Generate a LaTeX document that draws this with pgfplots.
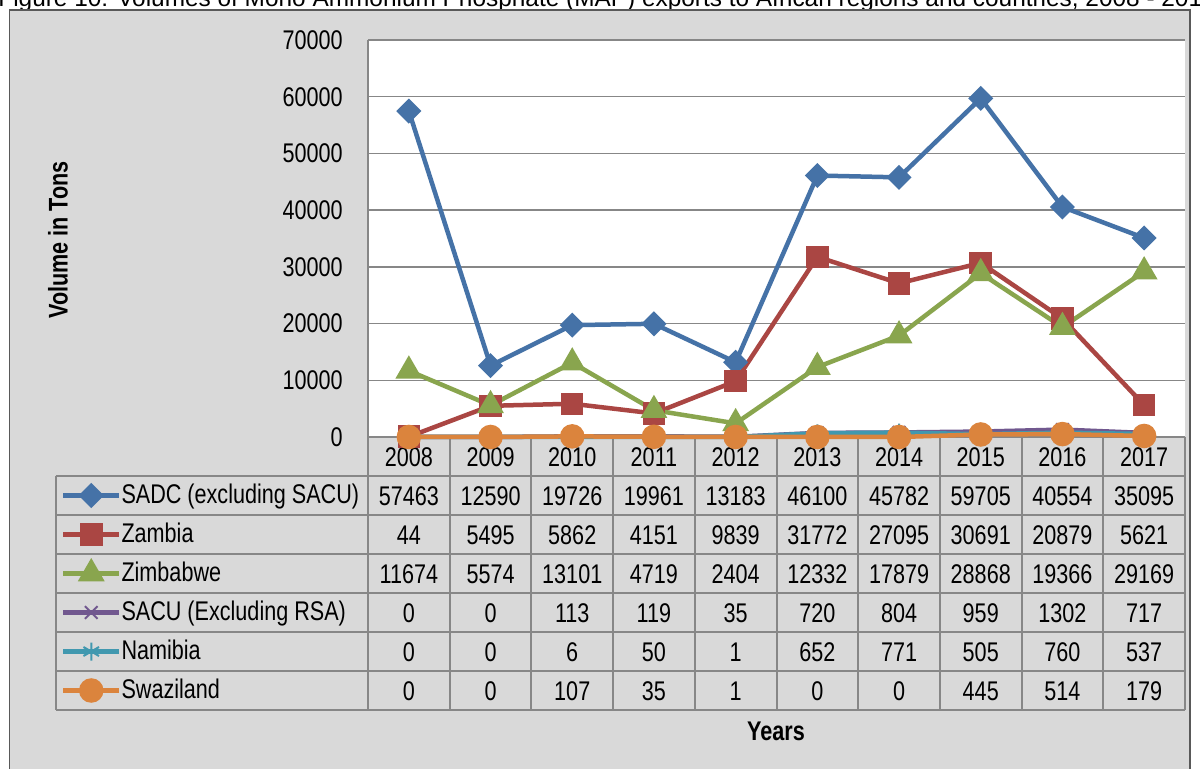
\documentclass[border=0pt]{standalone}
\usepackage{pgfplots}
\pgfplotsset{compat=1.18}
\usepackage{pgfplotstable}
\usepackage{fontspec}
\setmainfont{Liberation Sans}[FakeStretch=0.8]
\newfontfamily\titlefont{Liberation Sans}

\definecolor{cSADC}{HTML}{4572A7}
\definecolor{cZam}{HTML}{AA4643}
\definecolor{cZim}{HTML}{89A54E}
\definecolor{cSACU}{HTML}{71588F}
\definecolor{cNam}{HTML}{4198AF}
\definecolor{cSwa}{HTML}{DB843D}
\definecolor{panel}{HTML}{D9D9D9}
\definecolor{gridc}{HTML}{878787}

\pgfplotstableread{
year sadc zambia zimb sacu nam swa
0 57463 44 11674 0 0 0
1 12590 5495 5574 0 0 0
2 19726 5862 13101 113 6 107
3 19961 4151 4719 119 50 35
4 13183 9839 2404 35 1 1
5 46100 31772 12332 720 652 0
6 45782 27095 17879 804 771 0
7 59705 30691 28868 959 505 445
8 40554 20879 19366 1302 760 514
9 35095 5621 29169 717 537 179
}\datatable

\begin{document}
\begin{tikzpicture}[font=\fontsize{13.5}{16}\selectfont]
\useasboundingbox (0pt,0pt) rectangle (600pt,-384.5pt);
% title (cut off at the top of the page, as in the reference)
\node[anchor=base west, inner sep=0pt, font=\titlefont\fontsize{12.2}{14}\selectfont] at (-1pt,-3.5pt)
  {Figure 10: Volumes of Mono Ammonium Phosphate (MAP) exports to African regions and countries, 2008 - 2017};
% panel
\fill[panel] (4.75pt,-5pt) rectangle (595pt,-400pt);
\draw[gray!70!black, line width=0.6pt] (4.75pt,-400pt) -- (4.75pt,-5pt) -- (595pt,-5pt) -- (595pt,-400pt);
% table grid
\begin{scope}[draw=gridc, line width=1pt]
\foreach \k in {0,...,10} {
  \pgfmathsetmacro\xx{184+\k*40.85}
  \draw (\xx pt,-218.5pt) -- (\xx pt,-355pt);
}
\draw (184pt,-218.5pt) -- (592.5pt,-218.5pt);
\foreach \r in {0,...,6} {
  \pgfmathsetmacro\yy{-238-\r*19.5}
  \draw (27.75pt,\yy pt) -- (592.5pt,\yy pt);
}
\draw (27.75pt,-238pt) -- (27.75pt,-355pt);
\end{scope}
% table header (years)
\foreach \k in {0,...,9} {
  \pgfmathsetmacro\xx{184+(\k+0.5)*40.85}
  \pgfmathtruncatemacro\yr{2008+\k}
  \node[anchor=base, inner sep=0pt] at (\xx pt,-233.1pt) {\yr};
}
% table values
\foreach \col [count=\r from 0] in {sadc,zambia,zimb,sacu,nam,swa} {
  \foreach \k in {0,...,9} {
    \pgfmathsetmacro\xx{184+(\k+0.5)*40.85}
    \pgfmathsetmacro\yy{-247.75-\r*19.5-4.8}
    \pgfplotstablegetelem{\k}{\col}\of\datatable
    \node[anchor=base, inner sep=0pt] at (\xx pt,\yy pt) {\pgfplotsretval};
  }
}
% axis labels
\node[rotate=90, font=\fontsize{13.5}{16}\selectfont\bfseries] at (29pt,-120pt) {Volume in Tons};
\node[font=\fontsize{13.5}{16}\selectfont\bfseries] at (388pt,-365.5pt) {Years};

\begin{axis}[
  at={(184pt,-218.5pt)}, anchor=south west,
  scale only axis, width=408.5pt, height=198.5pt,
  xmin=-0.5, xmax=9.5, ymin=0, ymax=70000,
  enlargelimits=false, clip=false,
  axis y line*=left, axis x line=none,
  axis line style={draw=gridc, line width=0.75pt},
  axis background/.style={fill=white},
  xtick=\empty,
  ytick={0,10000,...,70000},
  ymajorgrids, major grid style={draw=gridc, line width=0.75pt},
  major tick length=0pt,
  scaled y ticks=false,
  /pgf/number format/set thousands separator={},
  /pgf/number format/assume math mode=true,
  yticklabel style={inner sep=0pt, xshift=-12.5pt, anchor=east, font=\fontsize{13.5}{16}\selectfont},
  every axis plot/.append style={line width=2.25pt},
  legend cell align=left,
  legend image code/.code={\draw[mark repeat=2, mark phase=2, #1] plot coordinates {(0pt,0pt) (14pt,0pt) (28pt,0pt)};},
  legend style={at={(axis description cs:-0.37577,-0.09824)}, anchor=north west,
    draw=none, fill=none, inner sep=0pt, outer sep=0pt, row sep=0pt,
    nodes={inner sep=0pt, minimum height=19.5pt},
    /tikz/every even column/.style={column sep=2pt},
    font=\fontsize{13.5}{16}\selectfont},
]
\addplot[color=cSADC, mark=square*, mark size=3.3pt, mark options={rotate=45, solid}] table[x=year, y=sadc] {\datatable};
\addlegendentry{SADC (excluding SACU)}
\addplot[color=cZam, mark=square*, mark size=4.5pt, mark options={solid}] table[x=year, y=zambia] {\datatable};
\addlegendentry{Zambia}
\addplot[color=cZim, mark=triangle*, mark size=5.5pt, mark options={solid}] table[x=year, y=zimb] {\datatable};
\addlegendentry{Zimbabwe}
\addplot[color=cSACU, mark=x, mark size=4.5pt, mark options={solid, line width=1pt}] table[x=year, y=sacu] {\datatable};
\addlegendentry{SACU (Excluding RSA)}
\addplot[color=cNam, mark=asterisk, mark size=4.5pt, mark options={solid, line width=1pt}] table[x=year, y=nam] {\datatable};
\addlegendentry{Namibia}
\addplot[color=cSwa, mark=*, mark size=5pt, mark options={solid}] table[x=year, y=swa] {\datatable};
\addlegendentry{Swaziland}
\end{axis}
\end{tikzpicture}
\end{document}
